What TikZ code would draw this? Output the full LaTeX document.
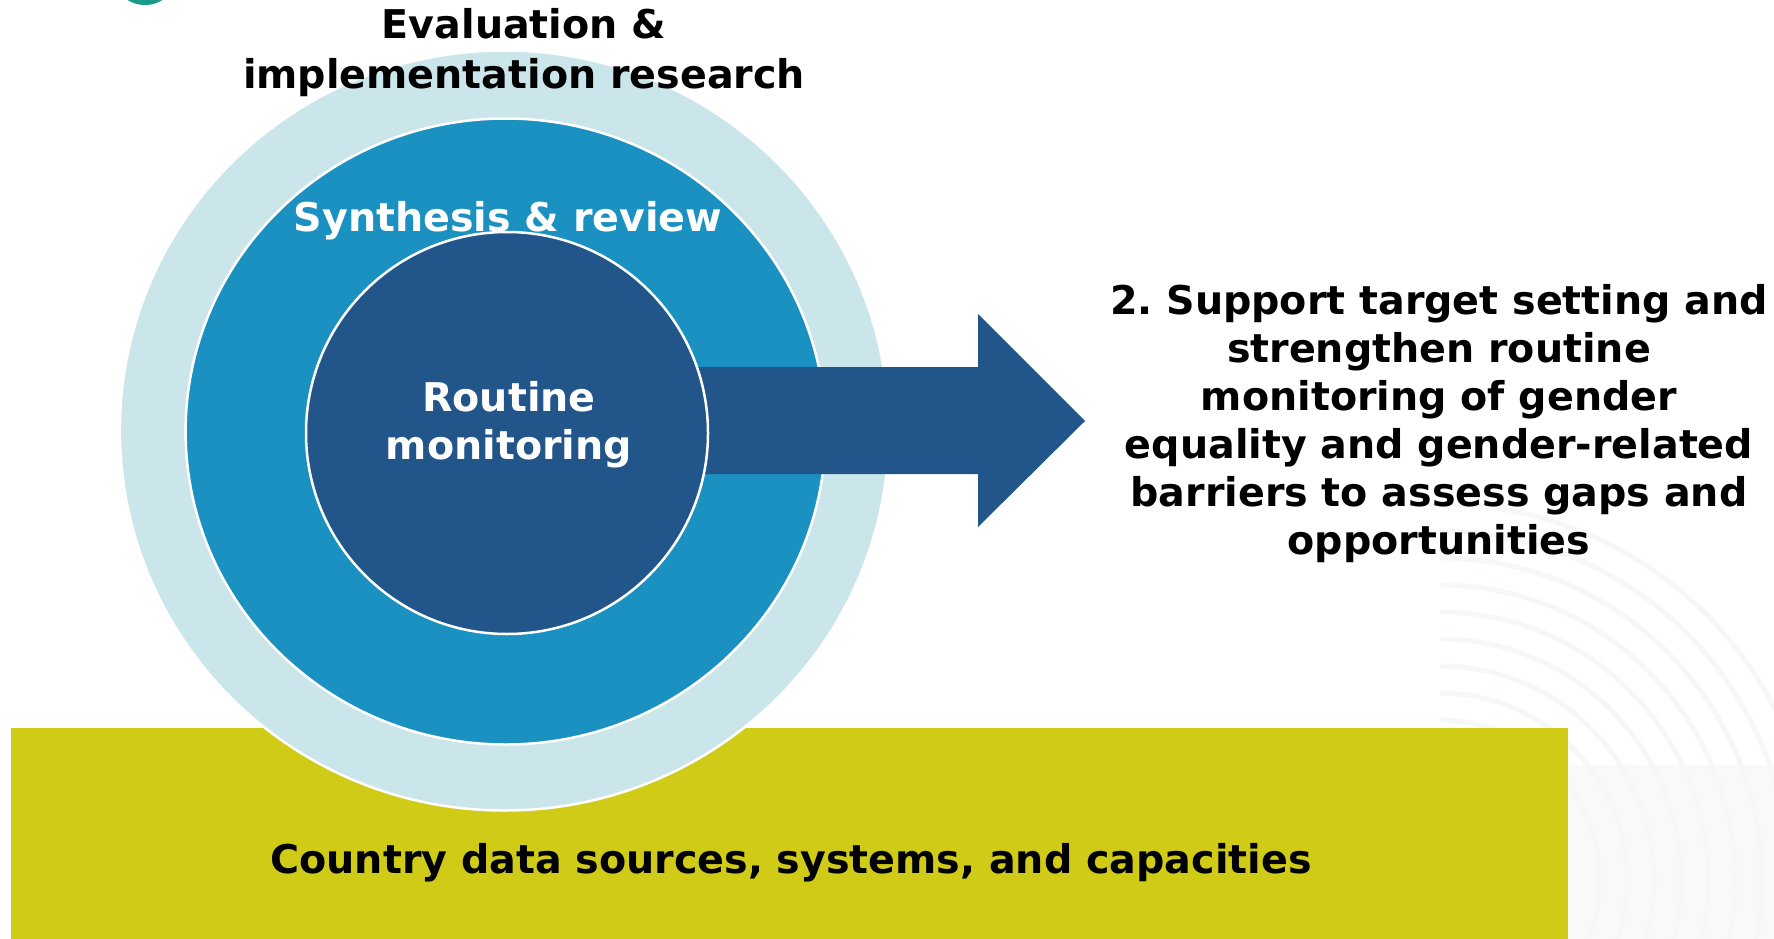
\documentclass[tikz,border=0pt]{standalone}
\usepackage{fontspec}
\usetikzlibrary{shapes.geometric}
\setmainfont{DejaVu Sans}
\frenchspacing
\definecolor{outerc}{HTML}{CBE6EA}
\definecolor{midc}{HTML}{1B91C1}
\definecolor{innerc}{HTML}{22568A}
\definecolor{ylw}{HTML}{D0CB16}
\definecolor{tealc}{HTML}{1A9A8C}
\definecolor{bgarc}{HTML}{F6F8F8}
\definecolor{bgbox}{HTML}{F8F9F9}
\tikzset{
  ring/.style={ellipse, draw=white, line width=2.5pt, inner sep=0pt},
  bigtxt/.style={font=\fontsize{39.6}{48}\selectfont\bfseries, align=center, inner sep=0pt},
}
\begin{document}
\begin{tikzpicture}[x=1pt,y=-1pt]
\useasboundingbox (0,0) rectangle (1774,939);
\fill[white] (0,0) rectangle (1774,939);
% faint background decoration
\fill[bgbox] (1568,765) rectangle (1774,939);
\begin{scope}
  \clip (1440,480) rectangle (1774,939);
  \foreach \r in {160,187,...,400} {
    \draw[bgarc, line width=5pt] (1440,880) circle (\r pt);
  }
\end{scope}
\fill[tealc] (145,-28) circle (33pt);
% base
\node[fill=ylw, minimum width=1557pt, minimum height=240pt, anchor=north west, inner sep=0pt] (base) at (11,728) {};
\node[bigtxt] (basetxt) at (791,863) {Country data sources, systems, and capacities};
% rings
\node[ring, fill=outerc, minimum width=769pt, minimum height=760pt] (outer) at (504.4,430.5) {};
\node[ring, fill=midc, minimum width=640pt, minimum height=626pt] (mid) at (505.6,431.5) {};
% arrow
\fill[innerc] (600,367) -- (978,367) -- (978,314) -- (1085,421) -- (978,527) -- (978,474) -- (600,474) -- cycle;
\coordinate (tip) at (1085,421);
\node[ring, fill=innerc, minimum width=402pt, minimum height=402pt] (inner) at (507,433) {};
% labels
\node[bigtxt, text=black, font=\fontsize{39.6}{50}\selectfont\bfseries] (evaltxt) at (524,53) {Evaluation \&\\implementation research};
\node[bigtxt, text=white] (synthtxt) at (508,221) {Synthesis \& review};
\node[bigtxt, text=white] (routtxt) at (509,425) {Routine\\monitoring};
\node[bigtxt, text=black] (goaltxt) at (1439,424) {2. Support target setting and\\strengthen routine\\monitoring of gender\\equality and gender-related\\barriers to assess gaps and\\opportunities};
\end{tikzpicture}
\end{document}
